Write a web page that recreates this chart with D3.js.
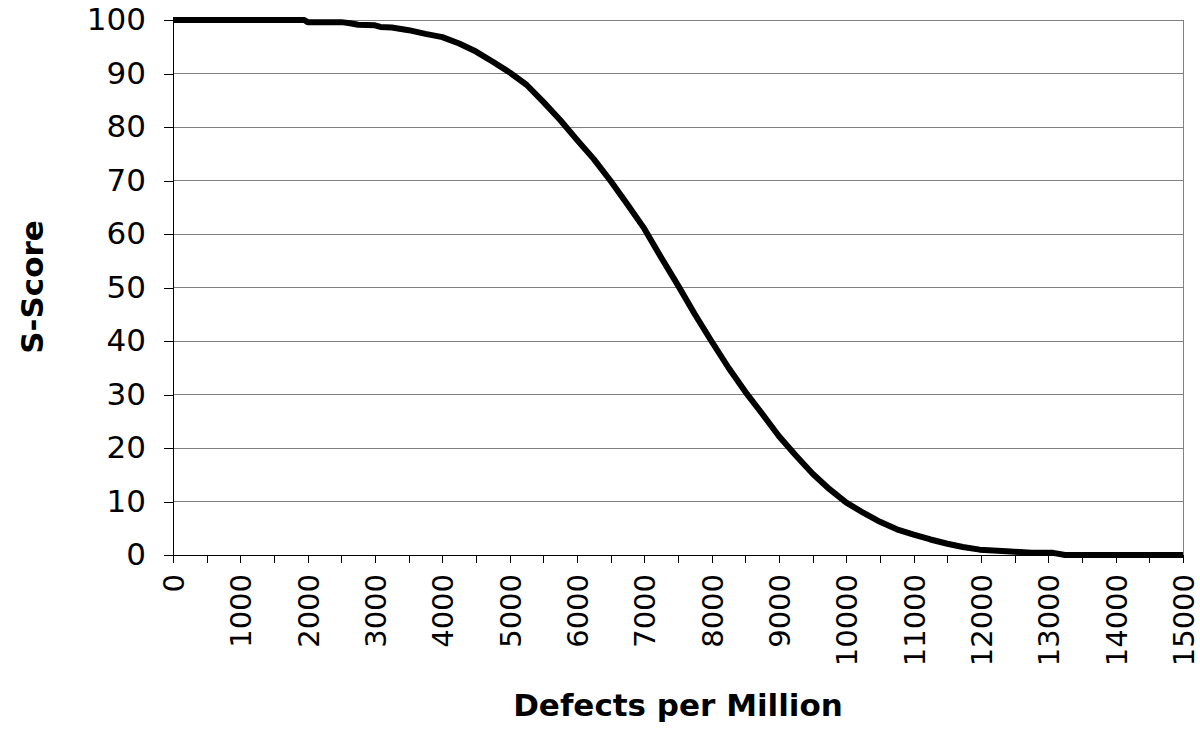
<!DOCTYPE html>
<html>
<head>
<meta charset="utf-8">
<script src="https://cdn.jsdelivr.net/npm/d3@7"></script>
<style>
  html, body { margin: 0; padding: 0; background: #fff; }
  svg { display: block; }
</style>
</head>
<body>
<svg id="chart" width="1200" height="742"></svg>
<script>
// ---- data ----
const defectsPerMillion = [
  0, 250, 500, 750, 1000, 1250, 1500, 1750, 1950, 2000, 2250, 2500, 2630, 2750, 3000,
  3080, 3250, 3500, 3750, 4000, 4250, 4500, 4750, 5000, 5250, 5500, 5750, 6000,
  6250, 6500, 6750, 7000, 7250, 7500, 7750, 8000, 8250, 8500, 8750, 9000, 9250,
  9500, 9750, 10000, 10250, 10500, 10750, 11000, 11250, 11500, 11730, 11980,
  12380, 12750, 13070, 13250, 13500, 14000, 14500, 15000
];
const sScore = [
  100, 100, 100, 100, 100, 100, 100, 100, 100, 99.6, 99.6, 99.6, 99.4, 99.1, 99.0,
  98.7, 98.6, 98.1, 97.4, 96.8, 95.6, 94.1, 92.2, 90.2, 87.9, 84.7, 81.3, 77.6,
  74.0, 69.9, 65.5, 61.0, 55.6, 50.4, 45.0, 39.9, 35.0, 30.5, 26.4, 22.2, 18.6,
  15.2, 12.3, 9.8, 7.9, 6.2, 4.8, 3.8, 2.9, 2.1, 1.5, 1.0,
  0.7, 0.4, 0.4, 0, 0, 0, 0, 0
];
const xTickValues = d3.range(0, 15001, 1000);
const xMinorTickValues = d3.range(0, 15001, 500);
const yTickValues = d3.range(0, 101, 10);
const xTitle = "Defects per Million";
const yTitle = "S-Score";

(function () {
const points = defectsPerMillion.map((d, i) => ({ x: d, y: sScore[i] }));

// ---- layout ----
const svg = d3.select("#chart");
const plotLeft = 173, plotRight = 1183, plotTop = 20, plotBottom = 555;

const x = d3.scaleLinear().domain([0, 15000]).range([plotLeft, plotRight]);
const y = d3.scaleLinear().domain([0, 100]).range([plotBottom, plotTop]);

const font = "'DejaVu Sans', Verdana, sans-serif";

// gridlines
svg.append("g")
  .selectAll("line")
  .data(yTickValues.filter(v => v > 0))
  .join("line")
  .attr("x1", plotLeft).attr("x2", plotRight)
  .attr("y1", d => y(d)).attr("y2", d => y(d))
  .attr("stroke", "#808080")
  .attr("stroke-width", 1)
  .attr("shape-rendering", "crispEdges");

// right border of plot area
svg.append("line")
  .attr("x1", plotRight).attr("x2", plotRight)
  .attr("y1", plotTop).attr("y2", plotBottom)
  .attr("stroke", "#808080")
  .attr("shape-rendering", "crispEdges");

// data line
svg.append("path")
  .datum(points)
  .attr("fill", "none")
  .attr("stroke", "#000")
  .attr("stroke-width", 6)
  .attr("stroke-linejoin", "round")
  .attr("d", d3.line().x(d => x(d.x)).y(d => y(d.y)).curve(d3.curveLinear));

// y axis
const yAxis = svg.append("g")
  .attr("transform", `translate(${plotLeft},0)`)
  .call(d3.axisLeft(y).tickValues(yTickValues).tickSize(9).tickPadding(18).tickSizeOuter(0));
yAxis.select(".domain").attr("stroke", "#000").attr("shape-rendering", "crispEdges");
yAxis.selectAll(".tick line").attr("stroke", "#000").attr("shape-rendering", "crispEdges");
yAxis.selectAll("text")
  .attr("font-family", font)
  .attr("font-size", 31)
  .attr("fill", "#000");

// x axis: minor ticks
const xAxisMinor = svg.append("g")
  .attr("transform", `translate(0,${plotBottom})`)
  .call(d3.axisBottom(x).tickValues(xMinorTickValues).tickSize(8).tickFormat("").tickSizeOuter(0));
xAxisMinor.select(".domain").attr("stroke", "#000").attr("shape-rendering", "crispEdges");
xAxisMinor.selectAll(".tick line").attr("stroke", "#000").attr("shape-rendering", "crispEdges");

// x axis labels
const xAxis = svg.append("g")
  .attr("transform", `translate(0,${plotBottom})`)
  .call(d3.axisBottom(x).tickValues(xTickValues).tickSize(0).tickFormat(d3.format("d")).tickSizeOuter(0));
xAxis.select(".domain").remove();
xAxis.selectAll("text")
  .attr("font-family", font)
  .attr("font-size", 29)
  .attr("fill", "#000")
  .attr("text-anchor", "end")
  .attr("transform", "rotate(-90)")
  .attr("x", -19)
  .attr("y", 0)
  .attr("dy", "0.36em");

// axis titles
svg.append("text")
  .attr("x", 678)
  .attr("y", 716)
  .attr("text-anchor", "middle")
  .attr("font-family", font)
  .attr("font-weight", "bold")
  .attr("font-size", 31)
  .attr("fill", "#000")
  .text(xTitle);

svg.append("text")
  .attr("transform", "translate(43,287) rotate(-90)")
  .attr("text-anchor", "middle")
  .attr("font-family", font)
  .attr("font-weight", "bold")
  .attr("font-size", 31)
  .attr("fill", "#000")
  .text(yTitle);
})();
</script>
</body>
</html>
